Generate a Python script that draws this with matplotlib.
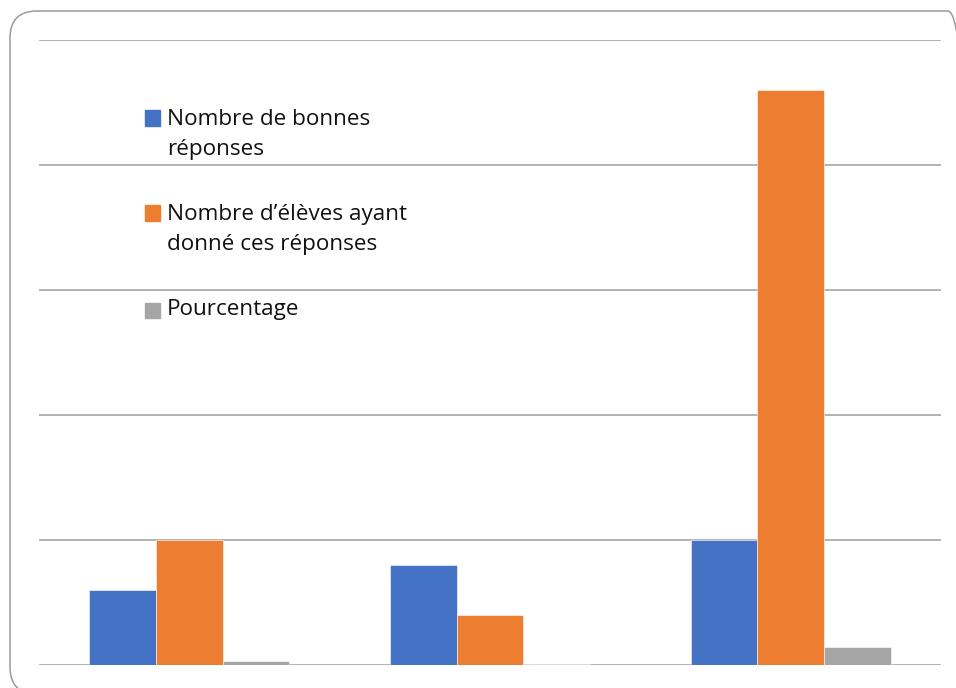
import numpy as np
import matplotlib
matplotlib.use("Agg")
import matplotlib.pyplot as plt
from matplotlib.patches import FancyBboxPatch, Rectangle

plt.rcParams['font.family'] = ['Open Sans', 'DejaVu Sans']

# data (y axis 0..25, gridlines every 5)
categories = ["A", "B", "C"]
bonnes = [3, 4, 5]
eleves = [5, 2, 23]
pourcentage = [0.15, 0.04, 0.72]
series_labels = ["Nombre de bonnes\nréponses",
                 "Nombre d’élèves ayant\ndonné ces réponses",
                 "Pourcentage"]
colors = ["#4472C4", "#ED7D31", "#A5A5A5"]

fig = plt.figure(figsize=(9.56, 6.88), dpi=100)
ax = fig.add_axes([39/956, 23/688, 902/956, 625/688])

x = np.arange(len(categories))
w = 0.222
for i, vals in enumerate([bonnes, eleves, pourcentage]):
    ax.bar(x + (i - 1) * w, vals, w, color=colors[i], edgecolor="white",
           linewidth=0.4, zorder=3)

ax.set_xlim(-0.5, len(categories) - 0.5)
ax.set_ylim(0, 25)
ax.set_yticks(np.arange(0, 26, 5))
ax.grid(axis="y", color="#a6a6a6", linewidth=1.2, zorder=0)
ax.set_xticks([])
ax.tick_params(left=False, labelleft=False)
for s in ax.spines.values():
    s.set_visible(False)

# legend drawn by hand, Excel style (square beside first line)
H = 688
first_line = [118, 213, 310]
centers = [134.5, 229.5, 310]
for lab, c, y1, yc in zip(series_labels, colors, first_line, centers):
    fig.patches.append(Rectangle((145/956, (H - y1 - 7.5)/H), 15/956, 15/H,
                                 transform=fig.transFigure, color=c))
    fig.text(167/956, (H - yc)/H, lab, fontsize=16.2, va="center", ha="left",
             linespacing=1.58, color="#111111")

# rounded slide frame (runs off the right and bottom edges)
frame = FancyBboxPatch((0.10, -0.06), 9.65, 6.83, boxstyle="round,pad=0,rounding_size=0.27",
                       transform=fig.dpi_scale_trans, fill=False,
                       edgecolor="#9a9a9a", linewidth=1.1)
fig.patches.append(frame)

fig.savefig("out.png", dpi=100)
